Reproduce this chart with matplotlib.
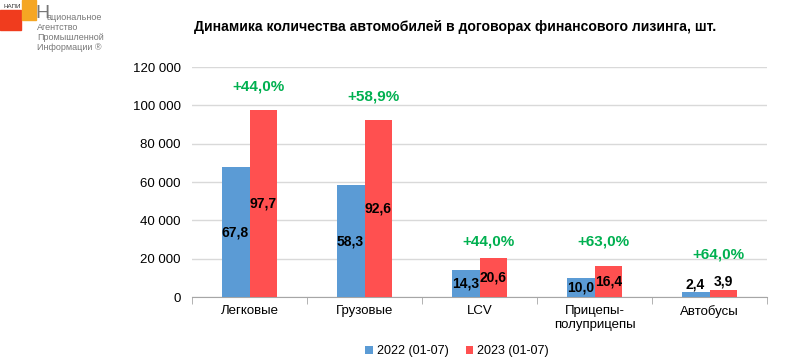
import numpy as np
import matplotlib.pyplot as plt
from matplotlib.patches import Rectangle
from matplotlib.ticker import FuncFormatter

plt.rcParams['font.family'] = ['Liberation Sans', 'DejaVu Sans']

categories = ["Легковые", "Грузовые", "LCV", "Прицепы-\nполуприцепы", "Автобусы"]
values_2022 = [67800, 58300, 14300, 10000, 2400]
values_2023 = [97700, 92600, 20600, 16400, 3900]
growth = ["+44,0%", "+58,9%", "+44,0%", "+63,0%", "+64,0%"]
series_names = ["2022 (01-07)", "2023 (01-07)"]

blue = "#5B9BD5"
red = "#FF5050"
green = "#00B050"

fig = plt.figure(figsize=(7.99, 3.63), dpi=100)
ax = fig.add_axes([0.2403, 0.1818, 0.7197, 0.6336])

x = np.arange(len(categories))
w = 0.243
ax.bar(x - w / 2, values_2022, w, color=blue, label=series_names[0], zorder=3)
ax.bar(x + w / 2, values_2023, w, color=red, label=series_names[1], zorder=3)

def fmt_k(v):
    return f"{v / 1000:.1f}".replace(".", ",")

for xs, vals in ((x - w / 2, values_2022), (x + w / 2, values_2023)):
    for xi, v in zip(xs, vals):
        if v < 8000:
            ax.text(xi, v + 500, fmt_k(v), ha="center", va="bottom",
                    fontsize=10, fontweight="bold", zorder=4)
        else:
            ax.text(xi, v / 2, fmt_k(v), ha="center", va="center",
                    fontsize=10, fontweight="bold", zorder=4)

# growth labels above each group
for xi, v, g in zip(x, values_2023, growth):
    if v > 50000:
        y = v + 12000
    elif v > 8000:
        y = max(v + 8000, 28700)
    else:
        y = 22000
    ax.text(xi + 0.08, y, g, ha="center", va="center", color=green,
            fontsize=11, fontweight="bold")

ax.set_xlim(-0.5, len(categories) - 0.5)
ax.set_ylim(0, 120000)
ax.set_yticks(np.arange(0, 120001, 20000))
ax.yaxis.set_major_formatter(FuncFormatter(lambda v, p: f"{int(v):,}".replace(",", " ")))
ax.grid(axis="y", color="#D9D9D9", linewidth=1, zorder=0)
ax.set_axisbelow(True)

ax.set_xticks(x)
ax.set_xticklabels(categories, fontsize=9.5)
ax.tick_params(axis="x", length=0, pad=6)
ax.set_xticks(np.arange(-0.5, len(categories)), minor=True)
ax.tick_params(axis="x", which="minor", length=5, color="#A6A6A6")
ax.tick_params(axis="y", length=0, labelsize=9.5, pad=8)

for s in ("top", "right", "left"):
    ax.spines[s].set_visible(False)
ax.spines["bottom"].set_color("#A6A6A6")

fig.text(0.57, 0.925, "Динамика количества автомобилей в договорах финансового лизинга, шт.",
         ha="center", va="center", fontsize=10.1, fontweight="bold")

fig.legend(loc="center", bbox_to_anchor=(0.572, 0.033), ncol=2, frameon=False,
           fontsize=9, handlelength=0.6, handleheight=0.6, handletextpad=0.3,
           columnspacing=1.4)

# logo
H = 363.0
W = 799.0
fig.patches.append(Rectangle((0, 1 - 30 / H), 21 / W, 20 / H, transform=fig.transFigure,
                             color="#F03C1E", zorder=1))
fig.patches.append(Rectangle((22 / W, 1 - 20 / H), 14 / W, 20 / H, transform=fig.transFigure,
                             color="#F5A623", zorder=1))
fig.text(4 / W, 1 - 7 / H, "НАПИ", fontsize=4.5, va="center", color="#333333")
fig.text(35 / W, 1 - 13 / H, "Н", fontsize=14, va="center", color="#777777")
fig.text(47 / W, 1 - 17 / H, "ациональное", fontsize=6.5, va="center", color="#777777")
for i, line in enumerate(["Агентство", "Промышленной", "Информации ®"]):
    fig.text(37 / W, 1 - (27 + 10 * i) / H, line, fontsize=6.5, va="center", color="#777777")

fig.savefig("out.png", dpi=100)
